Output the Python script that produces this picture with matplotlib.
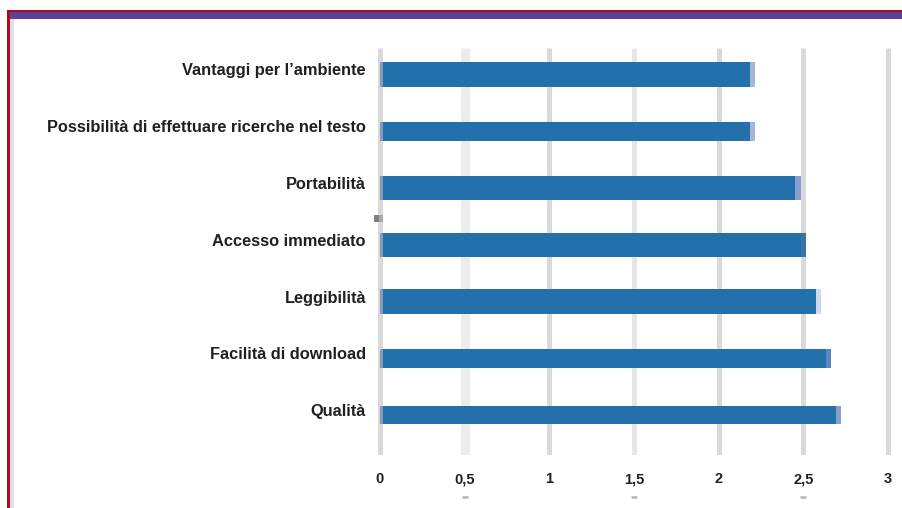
import matplotlib
matplotlib.use("Agg")
import matplotlib.pyplot as plt
from matplotlib.patches import Rectangle
from matplotlib.transforms import ScaledTranslation, blended_transform_factory

plt.rcParams['font.family'] = ['Liberation Sans', 'DejaVu Sans']

# Survey items, top to bottom
categories = [
    "Vantaggi per l\u2019ambiente",
    "Possibilità di effettuare ricerche nel testo",
    "Portabilità",
    "Accesso immediato",
    "Leggibilità",
    "Facilità di download",
    "Qualità",
]
# Stacked segments: small lead-in, main score, small tail
lead_values = [0.02, 0.02, 0.02, 0.02, 0.02, 0.02, 0.02]
main_values = [2.163, 2.163, 2.43, 2.465, 2.554, 2.613, 2.672]
tail_values = [0.03, 0.03, 0.035, 0.03, 0.03, 0.03, 0.03]
x_ticks = [0, 0.5, 1, 1.5, 2, 2.5, 3]
x_tick_labels = ["0", "0,5", "1", "1,5", "2", "2,5", "3"]

# Styling
bar_heights = [0.44, 0.335, 0.423, 0.423, 0.423, 0.335, 0.317]
main_color = "#2371ab"
lead_color = "#8799b6"
tail_colors = ["#a7b5d5", "#a7b5d5", "#8a9fcb", "#3b73a9", "#cfd8ec", "#5b85bf", "#8aa0cc"]
text_color = "#231f20"

W, H = 903, 508
fig = plt.figure(figsize=(W / 100, H / 100), dpi=100)
fig.patch.set_facecolor("white")

# Axes placement in pixels: x=0 at 380 px, x=3 at 888 px; rows span 48..455 px
px_per_unit = (888 - 380) / 3
x_lo, x_hi = -0.05, 3.05
left_px = 380 + x_lo * px_per_unit
right_px = 380 + x_hi * px_per_unit
top_px, bottom_px = 48, 455
ax = fig.add_axes([left_px / W, 1 - bottom_px / H,
                   (right_px - left_px) / W, (bottom_px - top_px) / H])
ax.set_xlim(x_lo, x_hi)

row_top, row_step = 74.5, 56.75
ax.set_ylim((bottom_px - row_top) / row_step, (top_px - row_top) / row_step)

for spine in ax.spines.values():
    spine.set_visible(False)

# Vertical gridlines
grid_styles = {0.5: ("#ececec", 6.5), 1.5: ("#e6e6e6", 3.6)}
for xv in x_ticks:
    col, lw = grid_styles.get(xv, ("#d9d9d9", 3.6))
    ax.axvline(xv, color=col, lw=lw, zorder=0, solid_capstyle="butt")

ypos = list(range(len(categories)))
ax.barh(ypos, lead_values, height=bar_heights, color=lead_color, zorder=2)
ax.barh(ypos, main_values, left=lead_values, height=bar_heights,
        color=main_color, zorder=2)
tail_left = [a + b for a, b in zip(lead_values, main_values)]
ax.barh(ypos, tail_values, left=tail_left, height=bar_heights,
        color=tail_colors, zorder=2)

# Category labels
ax.set_yticks(ypos)
ax.set_yticklabels(categories, fontsize=11.8, fontweight="bold", color=text_color)
ax.tick_params(axis="y", length=0, pad=4)
for lab in ax.get_yticklabels():
    lab.set_transform(lab.get_transform() + ScaledTranslation(0, 5 / 100, fig.dpi_scale_trans))

# Value axis labels
ax.set_xticks(x_ticks)
ax.set_xticklabels(x_tick_labels, fontsize=10.5, fontweight="bold", color=text_color)
ax.tick_params(axis="x", length=0, pad=12.5)

# Minor dashes under the half-step labels
trans = blended_transform_factory(ax.transData, fig.transFigure)
for xv in [0.5, 1.5, 2.5]:
    ax.plot([xv], [1 - 497 / H], marker="_", ms=4, mew=1.8, color="#b5b5b5",
            transform=trans, clip_on=False)

# Small marker left of the axis
fig.add_artist(Rectangle((374 / W, 1 - 222 / H), 5 / W, 7 / H,
                         transform=fig.transFigure, color="#7b8184", lw=0))
fig.add_artist(Rectangle((379 / W, 1 - 222 / H), 4 / W, 7 / H,
                         transform=fig.transFigure, color="#a4abae", lw=0))

# Page frame: red rule and purple band at top, red rule on the left
fig.add_artist(Rectangle((7 / W, 1 - 12 / H), (W - 7) / W, 2 / H,
                         transform=fig.transFigure, color="#a5101a", lw=0))
fig.add_artist(Rectangle((10 / W, 1 - 19 / H), (W - 10) / W, 7 / H,
                         transform=fig.transFigure, color="#5f3f98", lw=0))
fig.add_artist(Rectangle((7 / W, 0), 2.5 / W, 1 - 10 / H,
                         transform=fig.transFigure, color="#a5101a", lw=0))
fig.add_artist(Rectangle((10 / W, 0), 4 / W, 1 - 19 / H,
                         transform=fig.transFigure, color="#e3dcec", lw=0))

fig.savefig("out.png", dpi=100)
